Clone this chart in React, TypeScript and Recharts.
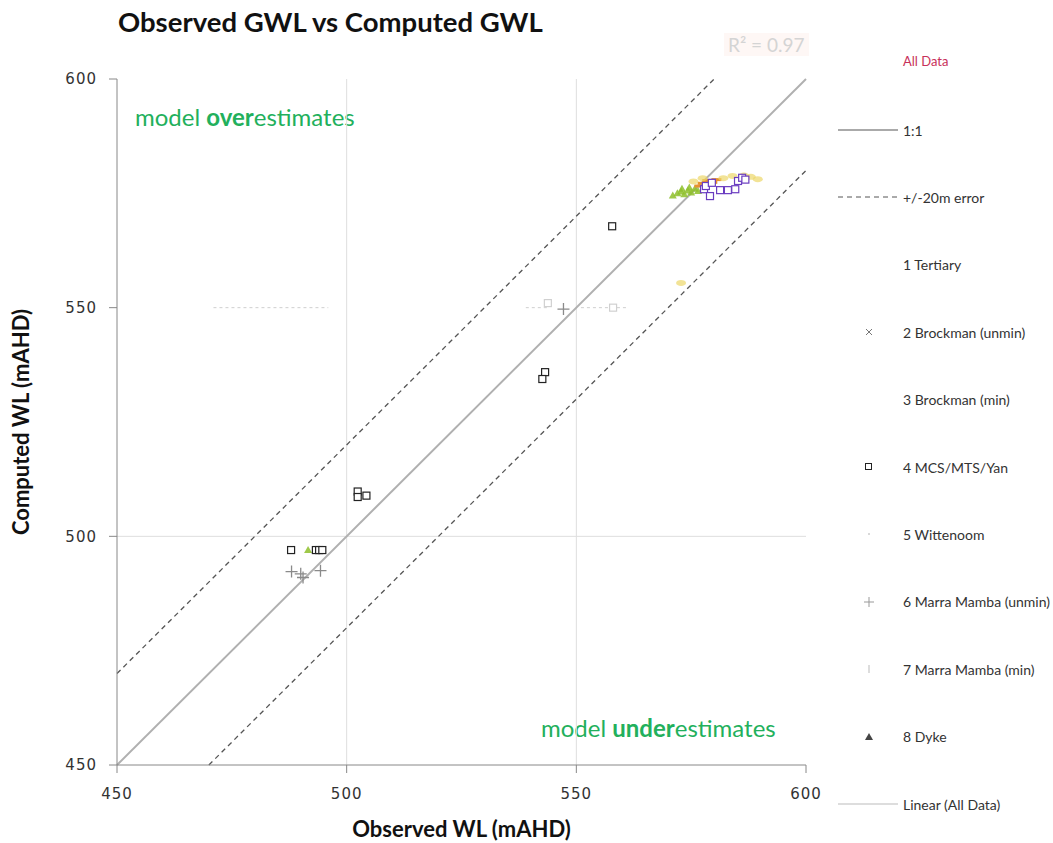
import React from "react";
import { ScatterChart, Scatter, XAxis, YAxis, ReferenceLine, Label } from "recharts";

// axis range and ticks (mAHD)
const axisDomain: [number, number] = [450, 600];
const axisTicks = [450, 500, 550, 600];
const gridX = [500, 550];
const gridY = [500];

// reference lines
const oneToOne = [{ x: 450, y: 450 }, { x: 600, y: 600 }];
const errorUpper = [{ x: 450, y: 470 }, { x: 580, y: 600 }];
const errorLower = [{ x: 470, y: 450 }, { x: 600, y: 580 }];
const linearFit = [{ x: 450, y: 448.5 }, { x: 600, y: 597 }];

// faint range bars around 550
const rangeBars = [
  [{ x: 471, y: 550 }, { x: 496, y: 550 }],
  [{ x: 539, y: 550 }, { x: 544, y: 550 }],
  [{ x: 551, y: 550 }, { x: 561, y: 550 }],
];

// 4 MCS/MTS/Yan
const mcsPoints = [
  { x: 557.8, y: 567.8 },
  { x: 543.2, y: 535.9 },
  { x: 542.6, y: 534.4 },
  { x: 502.4, y: 509.8 },
  { x: 502.4, y: 508.6 },
  { x: 504.3, y: 508.9 },
  { x: 487.9, y: 497.0 },
  { x: 493.3, y: 497.0 },
  { x: 494.0, y: 497.0 },
  { x: 494.7, y: 497.0 },
];

// 1 Tertiary
const tertiaryPoints = [
  { x: 577.8, y: 575.9 },
  { x: 579.1, y: 574.4 },
  { x: 578.2, y: 576.6 },
  { x: 579.5, y: 577.3 },
  { x: 581.3, y: 575.7 },
  { x: 583.0, y: 575.7 },
  { x: 584.6, y: 575.9 },
  { x: 585.2, y: 577.7 },
  { x: 586.1, y: 578.4 },
  { x: 586.8, y: 578.0 },
];

// 7 Marra Mamba (min)
const mmMinPoints = [
  { x: 571.0, y: 574.5 },
  { x: 572.0, y: 575.0 },
  { x: 572.8, y: 575.4 },
  { x: 573.5, y: 574.8 },
  { x: 574.3, y: 575.6 },
  { x: 575.0, y: 575.2 },
  { x: 575.8, y: 576.0 },
  { x: 576.5, y: 575.5 },
  { x: 573.0, y: 576.0 },
  { x: 574.6, y: 576.3 },
  { x: 491.6, y: 497.0 },
];

// 3 Brockman (min)
const brockMinPoints = [
  { x: 577.5, y: 577.2 },
  { x: 578.5, y: 577.8 },
  { x: 579.6, y: 577.4 },
  { x: 580.5, y: 578.0 },
  { x: 576.8, y: 576.6 },
];

// 5 Wittenoom
const wittenoomPoints = [
  { x: 582.0, y: 578.3 },
  { x: 584.0, y: 578.8 },
  { x: 586.5, y: 578.9 },
  { x: 588.0, y: 578.6 },
  { x: 589.5, y: 578.1 },
  { x: 575.5, y: 577.6 },
  { x: 577.5, y: 578.3 },
  { x: 572.8, y: 555.4 },
];

// 6 Marra Mamba (unmin)
const mmUnminPoints = [
  { x: 490.0, y: 491.8 },
  { x: 488.0, y: 492.3 },
  { x: 494.3, y: 492.5 },
  { x: 490.5, y: 491.0 },
  { x: 547.2, y: 549.7 },
];

// faint points on the 550 bars
const faintPoints = [
  { x: 543.8, y: 551.0 },
  { x: 558.0, y: 550.0 },
];

const legendItems = [
  "1:1",
  "+/-20m error",
  "1 Tertiary",
  "2 Brockman (unmin)",
  "3 Brockman (min)",
  "4 MCS/MTS/Yan",
  "5 Wittenoom",
  "6 Marra Mamba (unmin)",
  "7 Marra Mamba (min)",
  "8 Dyke",
  "Linear (All Data)",
];

const FONT = "Lato, 'Open Sans', sans-serif";

type P = { cx?: number; cy?: number };

const hollowSquare = (color: string) => (p: P) =>
  <rect x={(p.cx ?? 0) - 3.5} y={(p.cy ?? 0) - 3.5} width={7} height={7} fill="#fff" stroke={color} strokeWidth={1.2} />;

const plusMark = (color: string) => (p: P) => {
  const cx = p.cx ?? 0, cy = p.cy ?? 0;
  return <path d={`M${cx - 6},${cy}H${cx + 6}M${cx},${cy - 6}V${cy + 6}`} stroke={color} strokeWidth={1.3} fill="none" />;
};

const dashMark = (color: string) => (p: P) => {
  const cx = p.cx ?? 0, cy = p.cy ?? 0;
  return <path d={`M${cx - 5},${cy}H${cx + 5}`} stroke={color} strokeWidth={3} fill="none" />;
};

const triMark = (color: string) => (p: P) => {
  const cx = p.cx ?? 0, cy = p.cy ?? 0;
  return <path d={`M${cx},${cy - 4}L${cx + 4},${cy + 3}L${cx - 4},${cy + 3}Z`} fill={color} opacity={0.85} />;
};

const blob = (color: string) => (p: P) =>
  <ellipse cx={p.cx} cy={p.cy} rx={5} ry={3} fill={color} opacity={0.7} />;

function LegendMarker({ i }: { i: number }) {
  if (i === 0) return <line x1={0} y1={8} x2={60} y2={8} stroke="#aaa" strokeWidth={2} />;
  if (i === 1) return <line x1={0} y1={8} x2={60} y2={8} stroke="#555" strokeWidth={1} strokeDasharray="5 4" />;
  if (i === 10) return <line x1={0} y1={8} x2={60} y2={8} stroke="#ddd" strokeWidth={2} />;
  if (i === 3) return <path d="M28,5L34,11M34,5L28,11" stroke="#777" strokeWidth={1} />;
  if (i === 5) return <rect x={27.5} y={4.5} width={6} height={6} fill="#fff" stroke="#222" strokeWidth={1} />;
  if (i === 6) return <circle cx={31} cy={8} r={1} fill="#ccc" />;
  if (i === 7) return <path d="M26,8H36M31,3V13" stroke="#999" strokeWidth={1} />;
  if (i === 8) return <path d="M31,4V12" stroke="#ddd" strokeWidth={2} />;
  if (i === 9) return <path d="M31,4L35,11L27,11Z" fill="#444" />;
  return null;
}

export default function App() {
  return (
    <div style={{ position: "absolute", left: 0, top: 0, width: 1053, height: 843, background: "#fff", fontFamily: FONT }}>
      <div style={{ position: "absolute", left: 118, top: 5, fontSize: 27.5, fontWeight: 700, color: "#111", whiteSpace: "nowrap" }}>
        Observed GWL vs Computed GWL
      </div>
      <div style={{ position: "absolute", left: 724, top: 33, fontSize: 19, color: "#d4d4d4", background: "#fef7f5", padding: "0 4px" }}>
        R² = 0.97
      </div>
      <div style={{ position: "absolute", left: 135, top: 102, fontSize: 24, color: "#22b05c", whiteSpace: "nowrap" }}>
        model <b>over</b>estimates
      </div>
      <div style={{ position: "absolute", left: 541, top: 713, fontSize: 24, color: "#22b05c", whiteSpace: "nowrap" }}>
        model <b>under</b>estimates
      </div>

      <ScatterChart width={1053} height={843} margin={{ top: 79, right: 247, bottom: 0, left: 0 }}>
        {gridX.map((v) => (
          <ReferenceLine key={`gx${v}`} x={v} stroke="#dedede" strokeWidth={1} />
        ))}
        {gridY.map((v) => (
          <ReferenceLine key={`gy${v}`} y={v} stroke="#dedede" strokeWidth={1} />
        ))}
        {rangeBars.map((seg, i) => (
          <ReferenceLine key={`rb${i}`} segment={seg} stroke="#cfcfcf" strokeDasharray="3 3" strokeWidth={1} />
        ))}
        <XAxis
          type="number"
          dataKey="x"
          domain={axisDomain}
          ticks={axisTicks}
          allowDataOverflow
          stroke="#888"
          tickSize={8}
          tickMargin={15}
          height={78}
          tick={{ fontSize: 15, fill: "#333", fontFamily: "DejaVu Sans", letterSpacing: 1 }}
        >
          <Label value="Observed WL (mAHD)" position="insideBottom" offset={6} style={{ fontSize: 22, fontWeight: 700, fill: "#111", fontFamily: FONT }} />
        </XAxis>
        <YAxis
          type="number"
          dataKey="y"
          domain={axisDomain}
          ticks={axisTicks}
          allowDataOverflow
          stroke="#888"
          tickSize={8}
          tickMargin={12}
          width={117}
          tick={{ fontSize: 15, fill: "#333", fontFamily: "DejaVu Sans", letterSpacing: 1 }}
        >
          <Label value="Computed WL (mAHD)" angle={-90} position="insideLeft" offset={21} style={{ textAnchor: "middle", fontSize: 22, fontWeight: 700, fill: "#111", fontFamily: FONT }} />
        </YAxis>

        <ReferenceLine segment={linearFit} stroke="#dcdcdc" strokeWidth={2} />
        <ReferenceLine segment={oneToOne} stroke="#b0b0b0" strokeWidth={2} />
        <ReferenceLine segment={errorUpper} stroke="#555" strokeWidth={1.3} strokeDasharray="5 4" />
        <ReferenceLine segment={errorLower} stroke="#555" strokeWidth={1.3} strokeDasharray="5 4" />

        <Scatter name="faint" data={faintPoints} shape={hollowSquare("#d0d0d0")} isAnimationActive={false} />
        <Scatter name="7 Marra Mamba (min)" data={mmMinPoints} shape={triMark("#8ebf2a")} isAnimationActive={false} />
        <Scatter name="3 Brockman (min)" data={brockMinPoints} shape={dashMark("#e8922e")} isAnimationActive={false} />
        <Scatter name="5 Wittenoom" data={wittenoomPoints} shape={blob("#ecd76a")} isAnimationActive={false} />
        <Scatter name="1 Tertiary" data={tertiaryPoints} shape={hollowSquare("#6a3cc0")} isAnimationActive={false} />
        <Scatter name="4 MCS/MTS/Yan" data={mcsPoints} shape={hollowSquare("#222")} isAnimationActive={false} />
        <Scatter name="6 Marra Mamba (unmin)" data={mmUnminPoints} shape={plusMark("#8a8a8a")} isAnimationActive={false} />
      </ScatterChart>

      <div style={{ position: "absolute", left: 903, top: 53, fontSize: 13, color: "#c8305a" }}>All Data</div>
      {legendItems.map((name, i) => (
        <div key={name} style={{ position: "absolute", left: 838, top: 122 + i * 67.4, height: 16, display: "flex", alignItems: "center" }}>
          <svg width={62} height={16} style={{ display: "block", flexShrink: 0 }}>
            <LegendMarker i={i} />
          </svg>
          <span style={{ marginLeft: 3, fontSize: 14, color: "#333", whiteSpace: "nowrap" }}>{name}</span>
        </div>
      ))}
    </div>
  );
}
